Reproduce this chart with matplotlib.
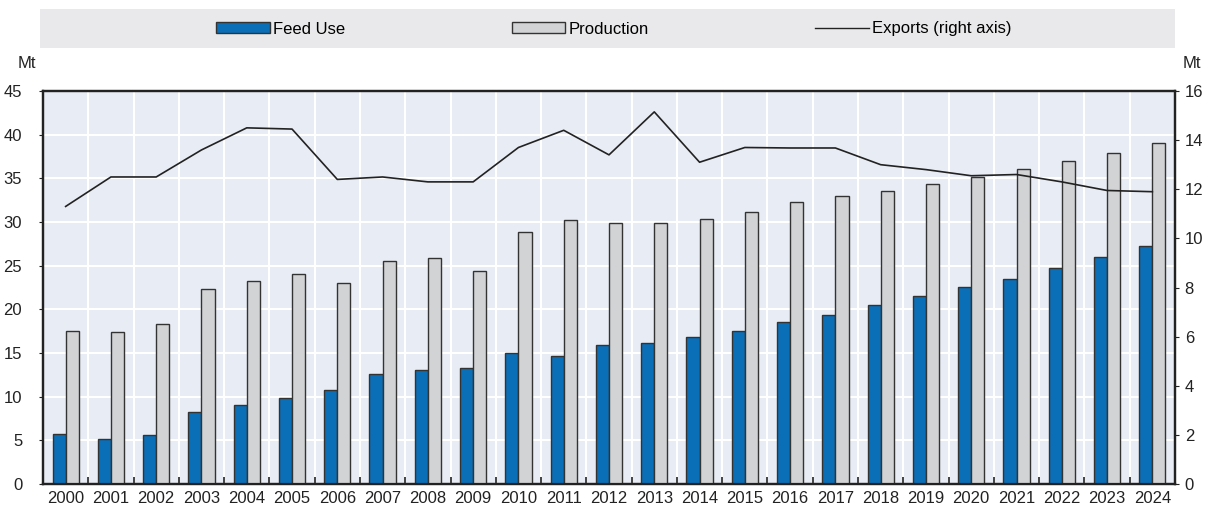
import matplotlib
matplotlib.use('Agg')
import matplotlib.pyplot as plt
import numpy as np
from matplotlib.patches import Rectangle, Patch
from matplotlib.lines import Line2D

plt.rcParams['font.family'] = ['Liberation Sans', 'DejaVu Sans']

years = [str(y) for y in range(2000, 2025)]
feed_use = [5.7, 5.2, 5.6, 8.3, 9.0, 9.9, 10.8, 12.6, 13.0, 13.3, 15.0, 14.6, 15.9, 16.2,
            16.8, 17.5, 18.6, 19.4, 20.5, 21.5, 22.6, 23.5, 24.7, 26.0, 27.2]
production = [17.5, 17.4, 18.3, 22.3, 23.3, 24.0, 23.0, 25.5, 25.9, 24.4, 28.8, 30.2, 29.9, 29.9,
              30.4, 31.2, 32.3, 33.0, 33.5, 34.3, 35.2, 36.1, 37.0, 37.9, 39.0]
exports = [11.3, 12.5, 12.5, 13.6, 14.5, 14.45, 12.4, 12.5, 12.3, 12.3, 13.7, 14.4, 13.4, 15.15,
           13.1, 13.7, 13.68, 13.68, 13.0, 12.8, 12.55, 12.6, 12.3, 11.95, 11.9]

blue = '#0b6fb8'
grey = '#d2d3d5'
edge = '#333333'
bg = '#e8ecf4'
fs = 12

fig = plt.figure(figsize=(12.09, 5.08), dpi=100)
ax = fig.add_axes([43 / 1209, 24 / 508, 1132 / 1209, 393 / 508])
ax2 = ax.twinx()

x = np.arange(len(years))
w = 0.29
ax.set_facecolor(bg)
ax.bar(x - w / 2, feed_use, width=w, color=blue, edgecolor=edge, linewidth=1.0, zorder=3)
ax.bar(x + w / 2, production, width=w, color=grey, edgecolor=edge, linewidth=1.0, zorder=3)
ax2.plot(x, exports, color='#222222', linewidth=1.2)

ax.set_xlim(-0.5, len(years) - 0.5)
ax.set_ylim(0, 45)
ax2.set_ylim(0, 16)
ax.set_yticks(np.arange(0, 46, 5))
ax2.set_yticks(np.arange(0, 17, 2))
ax.set_xticks(x)
ax.set_xticklabels(years)
ax.set_xticks(np.arange(-0.5, len(years), 1), minor=True)

ax.grid(axis='y', color='white', linewidth=1.5, zorder=0)
ax.grid(axis='x', which='minor', color='white', linewidth=1.5, zorder=0)
ax.set_axisbelow(True)

ax.tick_params(axis='x', which='major', length=0, labelsize=fs, pad=5, colors='#222222')
ax.tick_params(axis='x', which='minor', direction='in', length=5, width=1.2, color='#222222')
ax.tick_params(axis='y', length=3, labelsize=fs, pad=12, colors='#222222')
ax2.tick_params(axis='y', length=3, labelsize=fs, pad=4, colors='#222222')

for a in (ax, ax2):
    for s in a.spines.values():
        s.set_color('#222222')
        s.set_linewidth(1.6)

fig.text(27 / 1209, 1 - 63 / 508, 'Mt', ha='center', va='center', fontsize=fs, color='#222222')
fig.text(1192 / 1209, 1 - 63 / 508, 'Mt', ha='center', va='center', fontsize=fs, color='#222222')

# legend band
fig.patches.append(Rectangle((40 / 1209, 1 - 48 / 508), 1135 / 1209, 39 / 508,
                             transform=fig.transFigure, facecolor='#e9e9eb', edgecolor='none'))
handles = [Patch(facecolor=blue, edgecolor=edge, linewidth=1.0),
           Patch(facecolor=grey, edgecolor=edge, linewidth=1.0),
           Line2D([0], [0], color='#222222', linewidth=1.0)]
fig.legend(handles, ['Feed Use', 'Production', 'Exports (right axis)'], loc='center',
           bbox_to_anchor=(614 / 1209, 1 - 29 / 508), ncol=3, frameon=False, fontsize=fs,
           handlelength=3.2, handleheight=0.6, handletextpad=0.2, columnspacing=10)

fig.savefig('out.png', dpi=100)
